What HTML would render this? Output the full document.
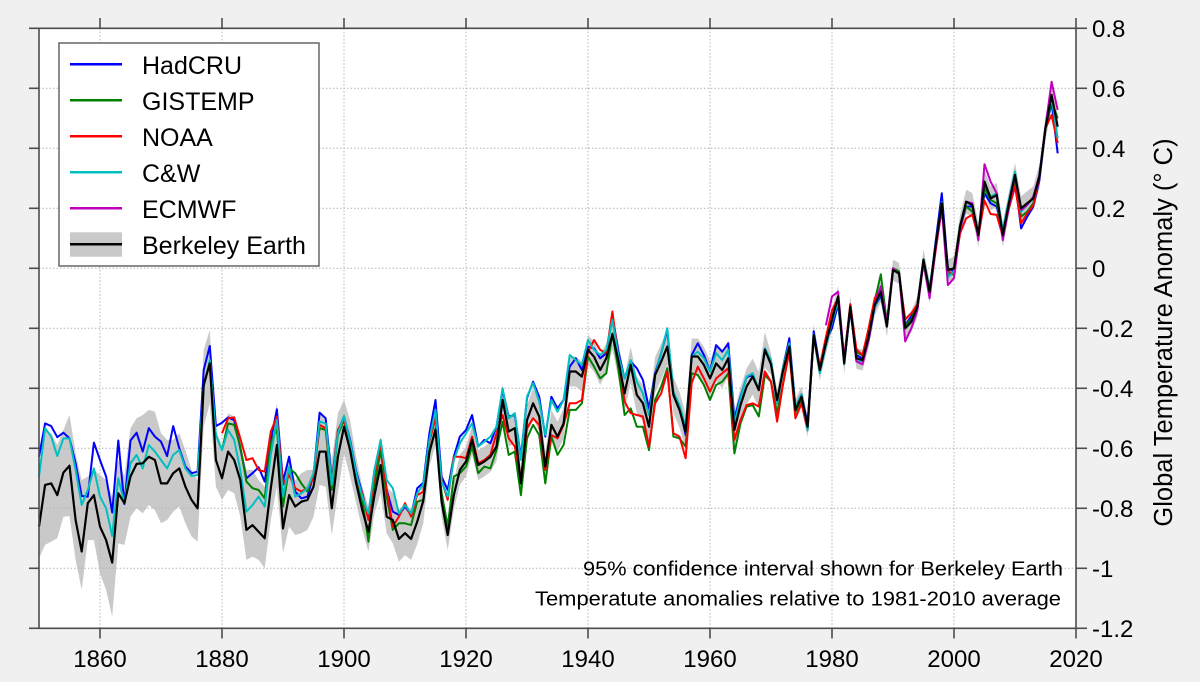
<!DOCTYPE html>
<html>
<head>
<meta charset="utf-8">
<style>
  html,body{margin:0;padding:0;background:#f0f0f0;}
  svg{display:block;}
  text{font-family:"Liberation Sans",Arial,sans-serif;fill:#000;}
</style>
</head>
<body>
<svg id="chart" width="1200" height="682" viewBox="0 0 1200 682" xmlns="http://www.w3.org/2000/svg">
  <rect x="0" y="0" width="1200" height="682" fill="#f0f0f0"/>
  <rect x="39" y="28.3" width="1037" height="600" fill="#ffffff"/>
  <path id="band" fill="#c9c9c9" stroke="none" d=""/>
  <g id="grid" stroke="#b4b4b4" stroke-width="1" stroke-dasharray="1.5,2" fill="none"></g>
  <g fill="none" stroke-width="2" stroke-linejoin="round">
    <path id="s_had" stroke="#0000ff" d=""/>
    <path id="s_gis" stroke="#008000" d=""/>
    <path id="s_noaa" stroke="#ff0000" d=""/>
    <path id="s_cw" stroke="#00bfbf" d=""/>
    <path id="s_ec" stroke="#bf00bf" d=""/>
    <path id="s_be" stroke="#000000" stroke-width="2.2" d=""/>
  </g>
  <g id="axes" stroke="#4d4d4d" stroke-width="1.6" fill="none"></g>
  <g id="labels" font-size="24"></g>

  <!-- legend -->
  <rect x="59" y="43" width="260" height="223" fill="#ffffff" stroke="#666666" stroke-width="1.5"/>
  <g stroke-width="2.5">
    <line x1="70" y1="64.3" x2="122" y2="64.3" stroke="#0000ff"/>
    <line x1="70" y1="100.3" x2="122" y2="100.3" stroke="#008000"/>
    <line x1="70" y1="136.3" x2="122" y2="136.3" stroke="#ff0000"/>
    <line x1="70" y1="172.3" x2="122" y2="172.3" stroke="#00bfbf"/>
    <line x1="70" y1="208.3" x2="122" y2="208.3" stroke="#bf00bf"/>
  </g>
  <rect x="70" y="232.3" width="52" height="24.4" fill="#c9c9c9"/>
  <line x1="70" y1="244.3" x2="122" y2="244.3" stroke="#000" stroke-width="2.5"/>
  <g font-size="25">
    <text x="142" y="74">HadCRU</text>
    <text x="142" y="110">GISTEMP</text>
    <text x="142" y="146">NOAA</text>
    <text x="142" y="182">C&amp;W</text>
    <text x="142" y="218">ECMWF</text>
    <text x="142" y="254">Berkeley Earth</text>
  </g>

  <!-- annotations -->
  <text x="583" y="575.3" font-size="20.5" textLength="480" lengthAdjust="spacingAndGlyphs">95% confidence interval shown for Berkeley Earth</text>
  <text x="535" y="605.3" font-size="20.5" textLength="526" lengthAdjust="spacingAndGlyphs">Temperatute anomalies relative to 1981-2010 average</text>

  <!-- y label -->
  <text transform="translate(1172,332.5) rotate(-90)" text-anchor="middle" font-size="25.5">Global Temperature Anomaly (° C)</text>
</svg>
<script>
(function(){
  var NS="http://www.w3.org/2000/svg";
  function X(yr){return 39+(yr-1850)*6.1;}
  function Y(v){return 268.3-300*v;}
  function pth(start,arr){
    var s="";
    for(var i=0;i<arr.length;i++){s+=(i?"L":"M")+X(start+i).toFixed(1)+","+Y(arr[i]).toFixed(1);}
    return s;
  }
  var be=[-0.861,-0.722,-0.717,-0.756,-0.681,-0.658,-0.839,-0.944,-0.783,-0.756,
  -0.861,-0.906,-0.981,-0.75,-0.783,-0.694,-0.652,-0.65,-0.628,-0.639,
  -0.717,-0.717,-0.683,-0.667,-0.728,-0.772,-0.8,-0.389,-0.317,-0.639,
  -0.7,-0.611,-0.639,-0.706,-0.872,-0.856,-0.878,-0.9,-0.733,-0.589,
  -0.867,-0.756,-0.794,-0.778,-0.772,-0.728,-0.611,-0.611,-0.8,-0.628,
  -0.528,-0.606,-0.717,-0.806,-0.878,-0.756,-0.656,-0.828,-0.839,-0.902,
  -0.883,-0.902,-0.845,-0.775,-0.611,-0.539,-0.778,-0.889,-0.756,-0.672,
  -0.644,-0.572,-0.656,-0.644,-0.628,-0.594,-0.439,-0.544,-0.533,-0.717,
  -0.506,-0.45,-0.494,-0.661,-0.522,-0.561,-0.517,-0.344,-0.344,-0.361,
  -0.272,-0.295,-0.339,-0.3,-0.22,-0.31,-0.417,-0.322,-0.422,-0.45,
  -0.528,-0.356,-0.311,-0.261,-0.422,-0.472,-0.544,-0.294,-0.294,-0.322,
  -0.367,-0.317,-0.339,-0.3,-0.539,-0.456,-0.394,-0.361,-0.406,-0.272,
  -0.32,-0.439,-0.339,-0.261,-0.472,-0.428,-0.528,-0.222,-0.339,-0.25,
  -0.172,-0.094,-0.317,-0.128,-0.3,-0.306,-0.228,-0.122,-0.078,-0.194,
  -0.006,-0.017,-0.2,-0.178,-0.128,0.028,-0.078,0.078,0.217,-0.006,
  0.0,0.14,0.222,0.211,0.111,0.289,0.233,0.244,0.111,0.217,
  0.311,0.2,0.217,0.233,0.306,0.467,0.578,0.472];
  var had=[-0.628,-0.517,-0.526,-0.563,-0.548,-0.567,-0.65,-0.759,-0.761,-0.581,
  -0.639,-0.694,-0.814,-0.574,-0.786,-0.574,-0.548,-0.611,-0.533,-0.561,
  -0.578,-0.626,-0.526,-0.6,-0.661,-0.683,-0.678,-0.339,-0.259,-0.526,
  -0.515,-0.497,-0.506,-0.6,-0.7,-0.683,-0.663,-0.711,-0.572,-0.47,
  -0.711,-0.628,-0.744,-0.767,-0.761,-0.689,-0.481,-0.5,-0.706,-0.544,
  -0.494,-0.572,-0.678,-0.75,-0.833,-0.672,-0.578,-0.739,-0.811,-0.822,
  -0.794,-0.822,-0.733,-0.715,-0.55,-0.439,-0.694,-0.739,-0.628,-0.561,
  -0.539,-0.489,-0.594,-0.572,-0.583,-0.528,-0.406,-0.494,-0.489,-0.628,
  -0.433,-0.378,-0.428,-0.561,-0.428,-0.467,-0.439,-0.328,-0.3,-0.339,
  -0.261,-0.267,-0.3,-0.283,-0.155,-0.28,-0.367,-0.311,-0.333,-0.372,
  -0.467,-0.35,-0.283,-0.206,-0.417,-0.461,-0.556,-0.289,-0.25,-0.289,
  -0.344,-0.256,-0.278,-0.25,-0.5,-0.428,-0.363,-0.356,-0.406,-0.267,
  -0.311,-0.45,-0.33,-0.233,-0.46,-0.42,-0.52,-0.21,-0.33,-0.24,
  -0.2,-0.12,-0.31,-0.14,-0.29,-0.3,-0.24,-0.13,-0.09,-0.19,
  0.0,-0.02,-0.19,-0.16,-0.12,0.03,-0.08,0.09,0.25,0.0,
  -0.01,0.133,0.206,0.206,0.117,0.25,0.217,0.206,0.117,0.217,
  0.294,0.133,0.172,0.206,0.294,0.467,0.55,0.383];
  var cw=[-0.694,-0.533,-0.561,-0.626,-0.567,-0.567,-0.672,-0.789,-0.739,-0.667,
  -0.761,-0.8,-0.892,-0.7,-0.783,-0.65,-0.622,-0.667,-0.589,-0.611,
  -0.639,-0.667,-0.622,-0.606,-0.667,-0.692,-0.689,-0.394,-0.306,-0.556,
  -0.606,-0.539,-0.572,-0.672,-0.811,-0.789,-0.761,-0.794,-0.622,-0.506,
  -0.761,-0.661,-0.761,-0.75,-0.733,-0.683,-0.511,-0.517,-0.722,-0.55,
  -0.492,-0.578,-0.683,-0.761,-0.817,-0.672,-0.572,-0.706,-0.733,-0.817,
  -0.789,-0.817,-0.75,-0.72,-0.572,-0.472,-0.711,-0.761,-0.639,-0.583,
  -0.55,-0.517,-0.594,-0.578,-0.561,-0.528,-0.4,-0.5,-0.483,-0.639,
  -0.428,-0.383,-0.444,-0.556,-0.439,-0.478,-0.439,-0.289,-0.306,-0.322,
  -0.239,-0.272,-0.289,-0.272,-0.172,-0.294,-0.367,-0.306,-0.378,-0.417,
  -0.489,-0.356,-0.283,-0.2,-0.411,-0.456,-0.528,-0.294,-0.278,-0.3,
  -0.344,-0.283,-0.306,-0.272,-0.517,-0.433,-0.361,-0.35,-0.406,-0.267,
  -0.306,-0.45,-0.328,-0.25,-0.46,-0.42,-0.54,-0.22,-0.35,-0.26,
  -0.18,-0.11,-0.32,-0.13,-0.31,-0.31,-0.23,-0.13,-0.08,-0.19,
  0.0,-0.02,-0.2,-0.18,-0.13,0.03,-0.07,0.08,0.22,-0.03,
  -0.01,0.144,0.222,0.211,0.117,0.283,0.239,0.25,0.128,0.228,
  0.322,0.189,0.211,0.233,0.311,0.472,0.567,0.433];
  var noaa=[-0.55,-0.5,-0.497,-0.567,-0.639,-0.633,-0.672,-0.678,-0.544,-0.494,
  -0.722,-0.689,-0.733,-0.744,-0.733,-0.7,-0.522,-0.533,-0.717,-0.539,
  -0.5,-0.606,-0.706,-0.75,-0.839,-0.689,-0.583,-0.739,-0.861,-0.828,
  -0.783,-0.828,-0.756,-0.745,-0.578,-0.5,-0.706,-0.772,-0.628,-0.628,
  -0.633,-0.561,-0.65,-0.639,-0.622,-0.55,-0.489,-0.567,-0.594,-0.7,
  -0.533,-0.5,-0.522,-0.672,-0.556,-0.567,-0.522,-0.45,-0.45,-0.439,
  -0.278,-0.239,-0.272,-0.283,-0.144,-0.3,-0.444,-0.483,-0.489,-0.494,
  -0.594,-0.45,-0.417,-0.344,-0.55,-0.561,-0.633,-0.383,-0.328,-0.367,
  -0.411,-0.367,-0.35,-0.333,-0.572,-0.506,-0.456,-0.45,-0.461,-0.344,
  -0.378,-0.511,-0.383,-0.28,-0.5,-0.45,-0.54,-0.23,-0.33,-0.23,
  -0.14,-0.1,-0.3,-0.12,-0.27,-0.29,-0.2,-0.1,-0.07,-0.19,
  0.0,-0.02,-0.17,-0.15,-0.12,0.02,-0.09,0.06,0.2,-0.01,
  -0.02,0.117,0.167,0.178,0.106,0.226,0.181,0.178,0.106,0.2,
  0.272,0.15,0.183,0.21,0.306,0.467,0.511,0.417];
  var gis=[-0.606,-0.517,-0.522,-0.594,-0.711,-0.733,-0.739,-0.767,-0.583,-0.533,
  -0.794,-0.667,-0.683,-0.717,-0.744,-0.689,-0.533,-0.539,-0.739,-0.556,
  -0.506,-0.594,-0.717,-0.772,-0.911,-0.728,-0.606,-0.761,-0.872,-0.85,
  -0.85,-0.856,-0.778,-0.772,-0.617,-0.533,-0.75,-0.861,-0.694,-0.683,
  -0.661,-0.594,-0.683,-0.661,-0.667,-0.606,-0.511,-0.622,-0.611,-0.756,
  -0.567,-0.522,-0.556,-0.717,-0.561,-0.622,-0.589,-0.472,-0.472,-0.45,
  -0.294,-0.328,-0.367,-0.35,-0.217,-0.339,-0.489,-0.467,-0.528,-0.528,
  -0.606,-0.439,-0.394,-0.333,-0.561,-0.567,-0.594,-0.35,-0.356,-0.389,
  -0.439,-0.389,-0.378,-0.35,-0.617,-0.517,-0.461,-0.456,-0.494,-0.356,
  -0.378,-0.483,-0.383,-0.27,-0.48,-0.44,-0.53,-0.23,-0.33,-0.24,
  -0.16,-0.1,-0.3,-0.12,-0.28,-0.29,-0.21,-0.11,-0.02,-0.18,
  0.0,-0.01,-0.19,-0.17,-0.12,0.03,-0.07,0.08,0.22,-0.02,
  -0.02,0.144,0.206,0.189,0.111,0.267,0.228,0.217,0.111,0.217,
  0.294,0.172,0.189,0.217,0.306,0.472,0.556,0.5];
  var ec=[-0.19,-0.094,-0.078,-0.3,-0.13,-0.31,-0.32,-0.24,-0.12,-0.06,
  -0.18,0.0,-0.02,-0.244,-0.2,-0.14,0.02,-0.1,0.07,0.2,
  -0.056,-0.033,0.133,0.222,0.217,0.094,0.347,0.289,0.25,0.094,
  0.206,0.306,0.194,0.211,0.239,0.311,0.472,0.622,0.528];
  var bu=[-0.694,-0.539,-0.55,-0.589,-0.539,-0.489,-0.617,-0.706,-0.694,-0.672,
  -0.689,-0.706,-0.761,-0.639,-0.694,-0.533,-0.5,-0.489,-0.472,-0.478,
  -0.55,-0.572,-0.572,-0.55,-0.606,-0.672,-0.706,-0.272,-0.206,-0.539,
  -0.594,-0.483,-0.494,-0.583,-0.672,-0.672,-0.706,-0.728,-0.561,-0.45,
  -0.717,-0.639,-0.706,-0.683,-0.672,-0.672,-0.483,-0.506,-0.639,-0.483,
  -0.439,-0.506,-0.628,-0.728,-0.794,-0.661,-0.561,-0.728,-0.75,-0.806,
  -0.783,-0.806,-0.78,-0.72];
  var bl=[-0.967,-0.922,-0.911,-0.9,-0.828,-0.826,-0.972,-1.072,-0.906,-0.906,
  -1.017,-1.072,-1.161,-0.917,-0.922,-0.828,-0.8,-0.817,-0.789,-0.806,
  -0.85,-0.839,-0.811,-0.794,-0.85,-0.894,-0.911,-0.528,-0.45,-0.728,
  -0.772,-0.739,-0.75,-0.828,-0.972,-0.961,-0.972,-1.0,-0.839,-0.728,
  -0.95,-0.861,-0.889,-0.883,-0.872,-0.828,-0.722,-0.728,-0.889,-0.75,
  -0.617,-0.694,-0.783,-0.872,-0.944,-0.817,-0.75,-0.883,-0.917,-0.978,
  -0.956,-0.972,-0.92,-0.85];
  function hw(yr){
    if(yr<1945) return 0.05;
    if(yr<1970) return 0.06;
    if(yr<2000) return 0.035;
    return 0.04;
  }
  var up=[],lo=[];
  for(var i=0;i<be.length;i++){
    var yr=1850+i;
    if(i<bu.length){up.push(bu[i]);lo.push(bl[i]);}
    else{up.push(be[i]+hw(yr));lo.push(be[i]-hw(yr));}
  }
  var bd="";
  for(var i=0;i<up.length;i++){bd+=(i?"L":"M")+X(1850+i).toFixed(1)+","+Y(up[i]).toFixed(1);}
  for(var i=lo.length-1;i>=0;i--){bd+="L"+X(1850+i).toFixed(1)+","+Y(lo[i]).toFixed(1);}
  bd+="Z";
  document.getElementById("band").setAttribute("d",bd);
  document.getElementById("s_had").setAttribute("d",pth(1850,had));
  document.getElementById("s_gis").setAttribute("d",pth(1880,gis));
  document.getElementById("s_noaa").setAttribute("d",pth(1880,noaa));
  document.getElementById("s_cw").setAttribute("d",pth(1850,cw));
  document.getElementById("s_ec").setAttribute("d",pth(1979,ec));
  document.getElementById("s_be").setAttribute("d",pth(1850,be));

  function line(g,x1,y1,x2,y2){
    var l=document.createElementNS(NS,"line");
    l.setAttribute("x1",x1);l.setAttribute("y1",y1);l.setAttribute("x2",x2);l.setAttribute("y2",y2);
    g.appendChild(l);
  }
  function txt(g,x,y,s,anchor){
    var t=document.createElementNS(NS,"text");
    t.setAttribute("x",x);t.setAttribute("y",y);
    if(anchor)t.setAttribute("text-anchor",anchor);
    t.textContent=s;g.appendChild(t);
  }
  var grid=document.getElementById("grid");
  var axes=document.getElementById("axes");
  var labels=document.getElementById("labels");
  var top=28.3,bot=628.3,left=39,right=1076;
  for(var yr=1860;yr<=2000;yr+=20){line(grid,X(yr),top,X(yr),bot);}
  var yv=[0.6,0.4,0.2,0,-0.2,-0.4,-0.6,-0.8,-1.0];
  for(var k=0;k<yv.length;k++){line(grid,left,Y(yv[k]),right,Y(yv[k]));}
  // frame
  line(axes,left,top,right,top);
  line(axes,left,bot,right,bot);
  line(axes,left,top,left,bot);
  line(axes,right,top,right,bot);
  // x ticks
  for(var yr=1860;yr<=2020;yr+=20){
    var x=X(yr);
    line(axes,x,18,x,top);
    line(axes,x,bot,x,638.5);
    txt(labels,x,667,String(yr),"middle");
  }
  // y ticks
  var ylab=["0.8","0.6","0.4","0.2","0","-0.2","-0.4","-0.6","-0.8","-1","-1.2"];
  for(var k=0;k<11;k++){
    var v=0.8-0.2*k, y=Y(v);
    line(axes,29,y,left,y);
    line(axes,right,y,1087,y);
    txt(labels,1092,y+8.5,ylab[k]);
  }
})();
</script>
</body>
</html>
